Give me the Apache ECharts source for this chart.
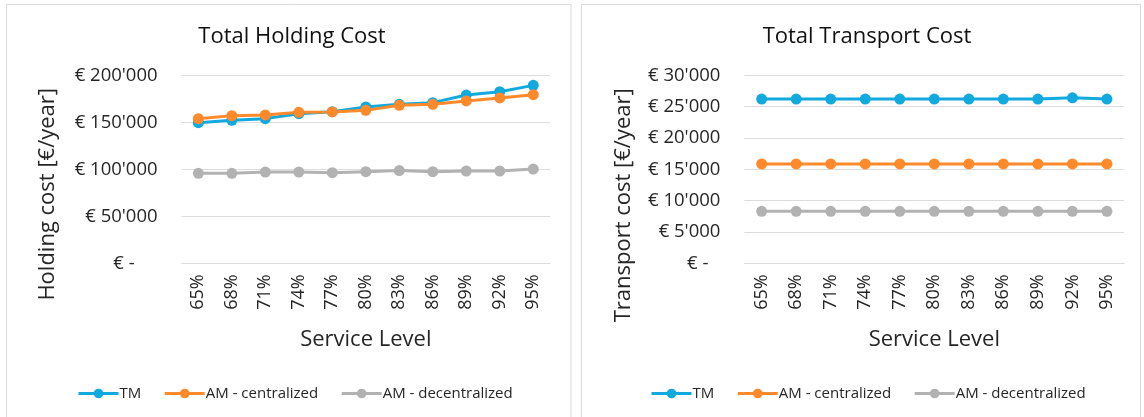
<!DOCTYPE html>
<html>
<head>
<meta charset="utf-8">
<title>Total Holding Cost / Total Transport Cost</title>
<script src="https://cdn.jsdelivr.net/npm/echarts@6/dist/echarts.min.js"></script>
<style>
  html, body { margin: 0; padding: 0; background: #ffffff; }
  #chart { width: 1144px; height: 417px; }
</style>
</head>
<body>
<div id="chart"></div>
<script>
// Service level categories shared by both panels
const serviceLevels = ['65%', '68%', '71%', '74%', '77%', '80%', '83%', '86%', '89%', '92%', '95%'];

// Total holding cost [€/year]
const holdingTM = [149600, 152100, 153900, 159200, 161300, 166300, 169100, 170900, 179000, 182600, 189300];
const holdingAMCentral = [153900, 157100, 157800, 160600, 161000, 162700, 168100, 169100, 172700, 175900, 179400];
const holdingAMDecentral = [95700, 95700, 97100, 97100, 96400, 97500, 98600, 97500, 98200, 98200, 100300];

// Total transport cost [€/year]
const transportTM = [26200, 26200, 26200, 26200, 26200, 26200, 26200, 26200, 26200, 26400, 26200];
const transportAMCentral = [15850, 15850, 15850, 15850, 15850, 15850, 15850, 15850, 15850, 15850, 15850];
const transportAMDecentral = [8300, 8300, 8300, 8300, 8300, 8300, 8300, 8300, 8300, 8300, 8300];

// Y tick values and their labels
const holdingTicks = [0, 50000, 100000, 150000, 200000];
const holdingTickLabels = ['€ -', "€ 50'000", "€ 100'000", "€ 150'000", "€ 200'000"];
const transportTicks = [0, 5000, 10000, 15000, 20000, 25000, 30000];
const transportTickLabels = ['€ -', "€ 5'000", "€ 10'000", "€ 15'000", "€ 20'000", "€ 25'000", "€ 30'000"];

const seriesNames = ['TM', 'AM - centralized', 'AM - decentralized'];
const seriesColors = ['#12A9DE', '#FF8A2B', '#B2B2B2'];

const FONT = '"Open Sans", "Noto Sans", sans-serif';
const TEXT = '#262626';
const GRIDLINE = '#DCDCDC';

// Accounting-style labels: the zero label "€ -" keeps a trailing gap
function tickLabel(ticks, labels) {
  return function (v) {
    const i = ticks.indexOf(v);
    if (i < 0) return '';
    return v === 0 ? '{z|' + labels[i] + '}' : labels[i];
  };
}

function catAxis(gridIndex) {
  return {
    type: 'category',
    gridIndex: gridIndex,
    data: serviceLevels,
    boundaryGap: true,
    name: 'Service Level',
    nameLocation: 'middle',
    nameGap: 65,
    nameTextStyle: { fontFamily: FONT, fontSize: 22, color: TEXT },
    axisLine: { show: true, lineStyle: { color: GRIDLINE, width: 1 } },
    axisTick: { show: false },
    axisLabel: { rotate: 90, margin: 11, fontFamily: FONT, fontSize: 18, color: TEXT },
    splitLine: { show: false }
  };
}

function valAxis(gridIndex, max, interval, ticks, labels, name, nameGap, namePadRight, zeroPad) {
  return {
    type: 'value',
    gridIndex: gridIndex,
    min: 0,
    max: max,
    interval: interval,
    name: name,
    nameLocation: 'middle',
    nameGap: nameGap,
    nameTextStyle: { fontFamily: FONT, fontSize: 22, color: TEXT, padding: [0, namePadRight, 0, 0] },
    axisLine: { show: false },
    axisTick: { show: false },
    axisLabel: {
      margin: 24,
      fontFamily: FONT,
      fontSize: 18.5,
      color: TEXT,
      formatter: tickLabel(ticks, labels),
      rich: {
        z: { fontFamily: FONT, fontSize: 18.5, color: TEXT, padding: [0, zeroPad, 0, 0] }
      }
    },
    splitLine: { show: true, lineStyle: { color: GRIDLINE, width: 1 } }
  };
}

function lineSeries(name, data, idx, axisIdx) {
  return {
    name: name,
    type: 'line',
    xAxisIndex: axisIdx,
    yAxisIndex: axisIdx,
    data: data,
    symbol: 'circle',
    symbolSize: 11,
    showAllSymbol: true,
    lineStyle: { width: 3, color: seriesColors[idx] },
    itemStyle: { color: seriesColors[idx] },
    emphasis: { disabled: true },
    animation: false
  };
}

function legendAt(left) {
  return {
    left: left,
    top: 381,
    data: seriesNames,
    itemWidth: 40,
    itemHeight: 12,
    itemGap: 22,
    lineStyle: { width: 3 },
    textStyle: { fontFamily: FONT, fontSize: 15, color: TEXT, padding: [0, 0, 0, -4] }
  };
}

const chart = echarts.init(document.getElementById('chart'), null, { renderer: 'canvas' });

chart.setOption({
  backgroundColor: '#ffffff',
  animation: false,
  color: seriesColors,
  graphic: [
    { type: 'rect', shape: { x: 6.5, y: 4.5, width: 564.5, height: 430 },
      style: { fill: 'none', stroke: '#D9D9D9', lineWidth: 1 }, silent: true },
    { type: 'rect', shape: { x: 581.5, y: 4.5, width: 559, height: 430 },
      style: { fill: 'none', stroke: '#D9D9D9', lineWidth: 1 }, silent: true }
  ],
  title: [
    { text: 'Total Holding Cost', left: 287, top: 21, textAlign: 'center',
      textStyle: { fontFamily: FONT, fontSize: 22, fontWeight: 'normal', color: '#111' } },
    { text: 'Total Transport Cost', left: 862, top: 21, textAlign: 'center',
      textStyle: { fontFamily: FONT, fontSize: 22, fontWeight: 'normal', color: '#111' } }
  ],
  legend: [legendAt(72), legendAt(645)],
  grid: [
    { left: 181.6, top: 75.3, width: 368.4, height: 188 },
    { left: 744.4, top: 75.3, width: 379.8, height: 188 }
  ],
  xAxis: [catAxis(0), catAxis(1)],
  yAxis: [
    valAxis(0, 200000, 50000, holdingTicks, holdingTickLabels, 'Holding cost [€/year]', 123, 50, 23),
    valAxis(1, 30000, 5000, transportTicks, transportTickLabels, 'Transport cost [€/year]', 110, 72, 12)
  ],
  series: [
    lineSeries(seriesNames[0], holdingTM, 0, 0),
    lineSeries(seriesNames[1], holdingAMCentral, 1, 0),
    lineSeries(seriesNames[2], holdingAMDecentral, 2, 0),
    lineSeries(seriesNames[0], transportTM, 0, 1),
    lineSeries(seriesNames[1], transportAMCentral, 1, 1),
    lineSeries(seriesNames[2], transportAMDecentral, 2, 1)
  ]
});
</script>
</body>
</html>
